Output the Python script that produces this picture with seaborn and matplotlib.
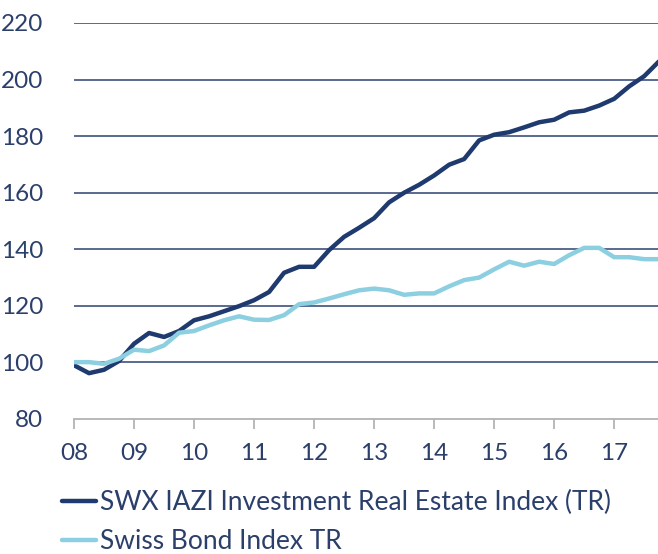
import numpy as np
import pandas as pd
import matplotlib
matplotlib.use("Agg")
import matplotlib.pyplot as plt
import seaborn as sns

# quarterly index values, 2008 Q1 .. 2017 Q4 (2008 = 100)
quarters = [2008 + i / 4 for i in range(40)]
real_estate = [99.0, 96.2, 97.4, 100.5, 106.6, 110.4, 109.0, 111.1, 114.9, 116.3,
               118.1, 119.9, 122.0, 124.9, 131.7, 133.8, 133.8, 139.7, 144.4, 147.6,
               151.0, 156.6, 160.0, 162.8, 166.1, 169.9, 171.9, 178.5, 180.5, 181.4,
               183.1, 184.9, 185.8, 188.4, 189.0, 190.8, 193.2, 197.6, 201.2, 206.5]
bonds = [100.1, 100.1, 99.5, 101.3, 104.5, 104.0, 106.0, 110.5, 111.1, 113.1,
         114.9, 116.3, 115.1, 115.0, 116.7, 120.6, 121.2, 122.6, 124.1, 125.5,
         126.1, 125.5, 123.9, 124.4, 124.4, 126.9, 129.1, 130.0, 132.9, 135.6,
         134.2, 135.6, 134.8, 137.9, 140.5, 140.5, 137.2, 137.2, 136.5, 136.5]
series_names = ["SWX IAZI Investment Real Estate Index (TR)", "Swiss Bond Index TR"]
year_ticks = list(range(2008, 2018))
year_labels = ["08", "09", "10", "11", "12", "13", "14", "15", "16", "17"]

df = pd.DataFrame({
    "quarter": quarters * 2,
    "value": real_estate + bonds,
    "series": [series_names[0]] * 40 + [series_names[1]] * 40,
})

navy = "#1f3a6e"
light = "#8ccfe1"
text_col = "#2b3f6b"

sns.set_style("white")
plt.rcParams["font.family"] = ["Lato", "DejaVu Sans"]

fig = plt.figure(figsize=(6.58, 5.54), dpi=100)
ax = fig.add_axes([0.1125, 0.2437, 0.8875, 0.7148])

sns.lineplot(data=df, x="quarter", y="value", hue="series",
             palette=[navy, light], linewidth=3.2, ax=ax, legend=False)

ax.set_xlim(2008, 2017.73)
ax.set_ylim(80, 220)
ax.set_yticks(range(80, 221, 20))
ax.set_xticks(year_ticks)
ax.set_xticklabels(year_labels)
ax.set_xlabel("")
ax.set_ylabel("")

for y in range(100, 221, 20):
    ax.axhline(y, color="#2d4373", linewidth=1.1, zorder=0)

for s in ["top", "right", "left"]:
    ax.spines[s].set_visible(False)
ax.spines["bottom"].set_color("#b3b3b3")
ax.spines["bottom"].set_linewidth(1.3)

ax.tick_params(axis="y", length=0, pad=22, labelsize=17.5, labelcolor=text_col)
ax.tick_params(axis="x", direction="out", length=7, width=1.3, color="#b3b3b3",
               pad=10, labelsize=17.5, labelcolor=text_col, bottom=True)

handles = [plt.Line2D([], [], color=navy, linewidth=3.2),
           plt.Line2D([], [], color=light, linewidth=3.2)]
leg = fig.legend(handles, series_names, loc="upper left",
                 bbox_to_anchor=(0.078, 0.135), frameon=False,
                 fontsize=19, handlelength=1.3, handletextpad=0.15,
                 labelspacing=0.55, borderaxespad=0)
for t in leg.get_texts():
    t.set_color(text_col)

fig.savefig("out.png", dpi=100)
